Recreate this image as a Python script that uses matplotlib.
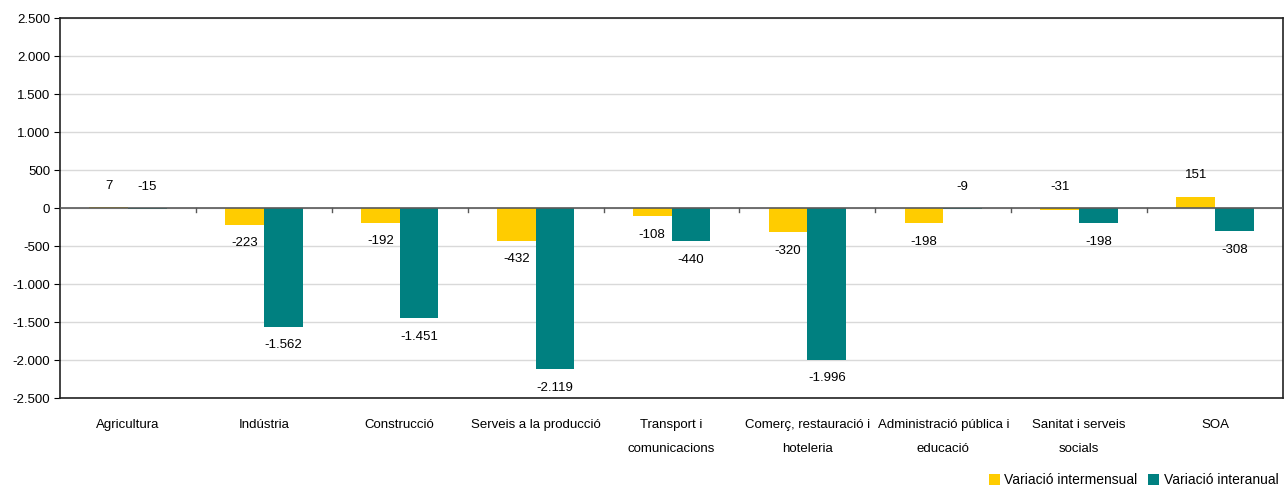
import matplotlib
matplotlib.use("Agg")
import matplotlib.pyplot as plt
from matplotlib.ticker import FuncFormatter, MultipleLocator
import numpy as np

categories = ["Agricultura", "Indústria", "Construcció", "Serveis a la producció",
              "Transport i\ncomunicacions", "Comerç, restauració i\nhoteleria",
              "Administració pública i\neducació", "Sanitat i serveis\nsocials", "SOA"]
intermensual = [7, -223, -192, -432, -108, -320, -198, -31, 151]
interanual = [-15, -1562, -1451, -2119, -440, -1996, -9, -198, -308]
series_names = ["Variació intermensual", "Variació interanual"]

plt.rcParams['font.family'] = ['Liberation Sans', 'DejaVu Sans']

fig = plt.figure(figsize=(12.88, 4.90), dpi=100)
ax = fig.add_axes([60/1288, 1-398/490, (1283-60)/1288, (398-18)/490])

x = np.arange(len(categories))
w = 0.285
c1, c2 = "#FFCC00", "#008080"
ax.bar(x - w/2, intermensual, w, color=c1, label=series_names[0], zorder=3)
ax.bar(x + w/2, interanual, w, color=c2, label=series_names[1], zorder=3)

ax.set_xlim(-0.5, len(categories) - 0.5)
ax.set_ylim(-2500, 2500)
ax.yaxis.set_major_locator(MultipleLocator(500))
ax.yaxis.set_major_formatter(FuncFormatter(lambda v, p: f"{int(v):,}".replace(",", ".")))
ax.grid(axis='y', color="#D9D9D9", linewidth=1, zorder=0)
ax.axhline(0, color="#595959", linewidth=1.2, zorder=4)
for b in np.arange(0.5, len(categories) - 0.5, 1.0):
    ax.plot([b, b], [0, -55], color="#595959", linewidth=1, zorder=4)

for s in ax.spines.values():
    s.set_color("#222222")
    s.set_linewidth(1.2)

ax.set_xticks(x)
ax.set_xticklabels(categories, fontsize=9.5, linespacing=2.3, va='top')
ax.tick_params(axis='x', length=0, pad=15)
ax.tick_params(axis='y', length=4, labelsize=9.5, pad=3)

def label(xp, v):
    s = f"{v:,}".replace(",", ".")
    if v >= 0 or abs(v) < 50:
        base = max(v, 0)
        ax.annotate(s, (xp, base), xytext=(0, 11), textcoords='offset points',
                    ha='center', va='bottom', fontsize=9.5, zorder=5)
    else:
        ax.annotate(s, (xp, v), xytext=(0, -9), textcoords='offset points',
                    ha='center', va='top', fontsize=9.5, zorder=5)

for i in range(len(categories)):
    label(x[i] - w/2, intermensual[i])
    label(x[i] + w/2, interanual[i])

fig.legend(loc='lower right', bbox_to_anchor=(1.0, -0.014), ncol=2, frameon=False,
           fontsize=10, handlelength=0.8, handleheight=0.8, handletextpad=0.3,
           columnspacing=0.8, borderaxespad=0.3)

fig.savefig("out.png", dpi=100)
